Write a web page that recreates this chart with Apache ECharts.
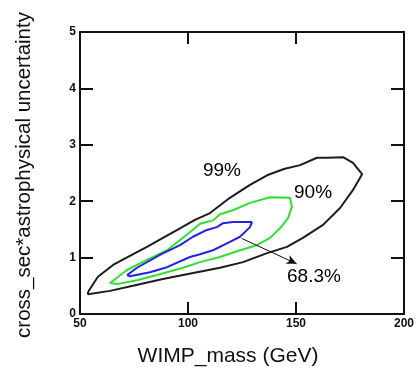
<!DOCTYPE html>
<html>
<head>
<meta charset="utf-8">
<script src="https://cdn.jsdelivr.net/npm/echarts@6/dist/echarts.min.js"></script>
<style>
html,body{margin:0;padding:0;background:#fff;}
#c{width:418px;height:373px;}
</style>
</head>
<body>
<div id="c"></div>
<script>
// Axis ticks
var xTicks = [50, 100, 150, 200];
var yTicks = [0, 1, 2, 3, 4, 5];

// 99% contour (black) [WIMP mass, cross_sec*uncertainty]
var contour99 = [
  [53.7,0.39],[58.3,0.66],[65.3,0.87],[73.1,1.03],[81.0,1.19],[88.4,1.35],[96.3,1.52],
  [103.2,1.67],[110.2,1.79],[119.4,2.06],[128.7,2.29],[136.6,2.46],[144.4,2.57],[151.9,2.64],
  [159.7,2.77],[164.4,2.77],[171.8,2.78],[176.4,2.68],[180.6,2.48],[176.4,2.20],[170.4,1.88],
  [162.5,1.58],[153.2,1.35],[145.8,1.19],[136.6,1.08],[125.5,0.92],[114.8,0.82],[97.7,0.69],
  [88.4,0.62],[74.5,0.50],[63.9,0.41],[53.7,0.35],[53.7,0.39]
];
// 90% contour (green)
var contour90 = [
  [63.9,0.55],[71.8,0.78],[81.0,0.96],[90.3,1.13],[100.9,1.45],[105.6,1.60],[111.6,1.66],
  [114.8,1.77],[120.8,1.84],[128.7,1.97],[138.0,2.07],[147.2,2.06],[148.1,1.90],[146.3,1.70],
  [142.6,1.52],[138.0,1.35],[131.9,1.22],[124.1,1.13],[114.8,1.01],[105.6,0.92],[97.7,0.82],
  [85.6,0.69],[76.4,0.60],[67.1,0.53],[63.9,0.55]
];
// 68.3% contour (blue)
var contour68 = [
  [71.8,0.69],[76.4,0.82],[87.0,1.05],[96.3,1.22],[102.3,1.37],[108.8,1.49],[113.4,1.54],
  [116.2,1.61],[120.8,1.63],[129.6,1.63],[128.7,1.54],[124.1,1.37],[119.4,1.28],[111.6,1.13],
  [105.6,1.06],[100.9,1.01],[90.3,0.83],[82.4,0.74],[73.1,0.67],[71.8,0.69]
];
// Contour labels
var labelNames = ['99%', '90%', '68.3%'];
var labelPos = [[115.7,2.54],[157.9,2.15],[158.3,0.66]];
// Arrow from 68.3% contour to its label
var arrowStart = [124.9,1.34];
var arrowEnd = [150.3,0.89];

var chart = echarts.init(document.getElementById('c'), null, {renderer:'canvas'});
var axisLineStyle = {color:'#111', width:2};
var labelStyle = {fontFamily:'Liberation Sans, Arial, sans-serif', fontWeight:'bold', fontSize:12, color:'#111'};
function xAx(pos, showLabel){
  return {type:'value', min:xTicks[0], max:xTicks[xTicks.length-1], interval:xTicks[1]-xTicks[0],
    position:pos, axisLine:{show:true, onZero:false, lineStyle:axisLineStyle},
    axisTick:{show:true, inside:true, length:12, lineStyle:{color:'#111', width:2}},
    axisLabel:Object.assign({show:showLabel, margin:4}, labelStyle), splitLine:{show:false}};
}
function yAx(pos, showLabel){
  return {type:'value', min:yTicks[0], max:yTicks[yTicks.length-1], interval:yTicks[1]-yTicks[0],
    position:pos, axisLine:{show:true, onZero:false, lineStyle:axisLineStyle},
    axisTick:{show:true, inside:true, length:13, lineStyle:{color:'#111', width:2}},
    axisLabel:Object.assign({show:showLabel, margin:4}, labelStyle), splitLine:{show:false}};
}
function contour(data, color){
  return {type:'line', data:data, showSymbol:false, symbol:'none', smooth:false, animation:false,
    lineStyle:{color:color, width:2}, xAxisIndex:0, yAxisIndex:0, z:3};
}
chart.setOption({
  animation:false,
  backgroundColor:'#fff',
  grid:{left:80, right:14, top:32, bottom:59, containLabel:false},
  xAxis:[xAx('bottom', true), xAx('top', false)],
  yAxis:[yAx('left', true), yAx('right', false)],
  series:[
    contour(contour99, '#1c1c1c'),
    contour(contour90, '#2fe02f'),
    contour(contour68, '#2323e0'),
    {type:'scatter', symbolSize:0, animation:false, z:5, itemStyle:{color:'#000', opacity:1},
      data:labelNames.map(function(n,i){return {name:n, value:labelPos[i]};}),
      label:{show:true, position:'inside', formatter:'{b}', fontFamily:'Liberation Sans, Arial, sans-serif', fontSize:19, color:'#000', textBorderWidth:0, opacity:1},
      markLine:{silent:true, symbol:['none','arrow'], symbolSize:[7,10], label:{show:false},
        lineStyle:{color:'#111', width:1, type:'solid', opacity:1},
        data:[[{coord:arrowStart},{coord:arrowEnd}]]}
    }
  ],
  graphic:[
    {type:'text', x:228, y:356, style:{text:'WIMP_mass (GeV)', font:'21px "Liberation Sans", Arial, sans-serif', fill:'#111', textAlign:'center', textVerticalAlign:'middle'}},
    {type:'text', x:24, y:175, rotation:Math.PI/2, style:{text:'cross_sec*astrophysical uncertainty', font:'20.5px "Liberation Sans", Arial, sans-serif', fill:'#111', textAlign:'center', textVerticalAlign:'middle'}}
  ]
});
</script>
</body>
</html>
